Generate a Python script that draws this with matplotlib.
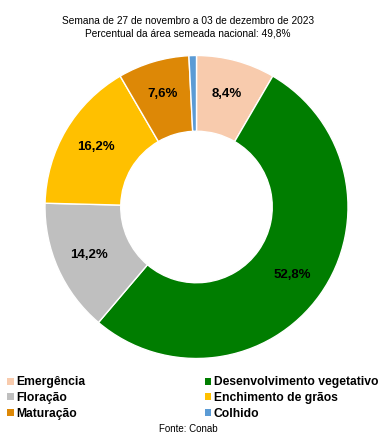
import matplotlib.pyplot as plt
from matplotlib.patches import Patch

plt.rcParams['font.family'] = ['Liberation Sans', 'DejaVu Sans']

## Data
categorias = ['Emergência', 'Desenvolvimento vegetativo', 'Floração',
              'Enchimento de grãos', 'Maturação', 'Colhido']
valores = [8.4, 52.8, 14.2, 16.2, 7.6, 0.8]
cores = ['#F8CBAD', '#007D00', '#BFBFBF', '#FFC000', '#DD8806', '#5B9BD5']
rotulos = ['8,4%', '52,8%', '14,2%', '16,2%', '7,6%', '']

W, H = 392, 443
fig = plt.figure(figsize=(W / 100, H / 100), dpi=100)

# pie centre and radius in pixels (from top-left)
cx, cy, r = 196.5, 207, 151.5
ax = fig.add_axes([(cx - r) / W, (H - cy - r) / H, 2 * r / W, 2 * r / H])

wedges, texts, autotexts = ax.pie(
    valores,
    colors=cores,
    startangle=90,
    counterclock=False,
    radius=1,
    wedgeprops=dict(width=0.5, edgecolor='white', linewidth=1),
    autopct='%1.1f',
    pctdistance=0.775,
)
for t, lab in zip(autotexts, rotulos):
    t.set_text(lab)
    t.set_fontsize(9.5)
    t.set_fontweight('bold')
    t.set_color('black')
ax.set_xlim(-1, 1)
ax.set_ylim(-1, 1)
ax.set_aspect('equal')
ax.axis('off')

fig.text(188 / W, 1 - 20.5 / H, 'Semana de 27 de novembro a 03 de dezembro de 2023',
         ha='center', va='center', fontsize=7.3)
fig.text(188 / W, 1 - 34 / H, 'Percentual da área semeada nacional: 49,8%',
         ha='center', va='center', fontsize=7.3)

# legend: column-first order
ordem = [0, 2, 4, 1, 3, 5]
handles = [Patch(facecolor=cores[i], edgecolor='none') for i in ordem]
labels = [categorias[i] for i in ordem]
fig.legend(handles, labels, ncol=2, loc='upper left',
           bbox_to_anchor=(7 / W, 1 - 376.5 / H),
           frameon=False, prop={'size': 8.7, 'weight': 'bold'},
           handlelength=0.55, handleheight=0.55, handletextpad=0.2,
           labelspacing=0.3, columnspacing=9.9, borderpad=0, borderaxespad=0)

fig.text(188 / W, 1 - 429 / H, 'Fonte: Conab', ha='center', va='center', fontsize=7)

fig.savefig('out.png', dpi=100, facecolor='white')
